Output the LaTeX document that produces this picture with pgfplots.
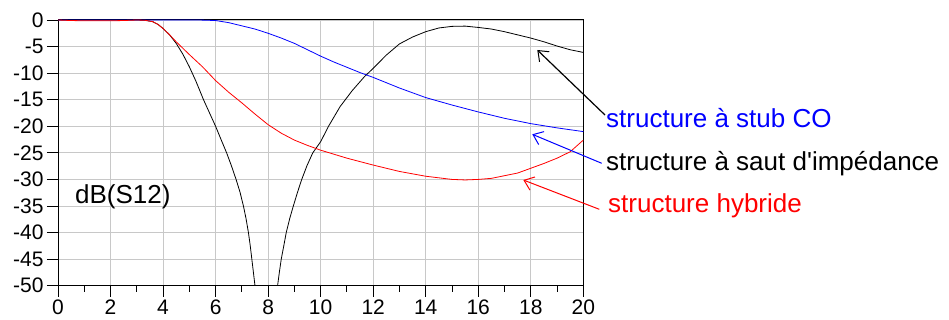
\documentclass[border=0pt]{standalone}
\usepackage{pgfplots}
\pgfplotsset{compat=1.18}
\usepackage{fontspec}
\setmainfont{Liberation Sans}
\usetikzlibrary{arrows.meta}
\definecolor{gridgray}{RGB}{200,200,200}
\begin{document}
\begin{tikzpicture}[x=1pt,y=1pt]
\path[use as bounding box] (0,0) rectangle (949,320);
\begin{axis}[
  at={(58pt,34.3pt)}, anchor=south west,
  scale only axis, width=525.3pt, height=265.7pt,
  xmin=0, xmax=20, ymin=-50, ymax=0,
  xtick={0,2,...,20}, minor xtick={1,3,...,19},
  ytick={-50,-45,...,0},
  grid=major, major grid style={color=gridgray, line width=0.9pt},
  tick align=outside, tick pos=left,
  major tick length=11pt, minor tick length=6pt,
  tick style={black, line width=0.9pt},
  axis line style={line width=1pt},
  ticklabel style={font=\fontsize{21}{24}\selectfont},
  /pgf/number format/assume math mode=true,
  clip=true,
]
% structure a stub CO (black)
\addplot[black, line width=0.8pt] coordinates {
(0,0) (2,0) (3,0) (3.3,-0.05) (3.6,-0.3) (3.8,-0.8) (4,-1.6) (4.25,-2.8) (4.5,-4.4)
(4.75,-6.4) (5,-8.8) (5.25,-11.5) (5.54,-15) (5.77,-17.5) (6,-20) (6.2,-22.4)
(6.42,-25) (6.6,-27.4) (6.78,-30) (6.93,-32.4) (7.06,-35) (7.16,-37.4) (7.25,-40)
(7.32,-42.5) (7.38,-45) (7.44,-47.5) (7.5,-50) (7.6,-55) (7.75,-64) (7.93,-80)
(8.1,-64) (8.25,-55) (8.36,-50) (8.43,-47.4) (8.5,-45) (8.6,-42.4) (8.69,-40)
(8.82,-37.4) (8.96,-35) (9.12,-32.4) (9.28,-30) (9.48,-27.4) (9.7,-25)
(10,-22.9) (10.3,-20) (10.74,-16.3) (11.2,-13.3) (11.66,-10.7) (12,-9.1)
(12.5,-6.6) (13,-4.5) (13.5,-3.2) (14,-2.2) (14.5,-1.5)
(15,-1.2) (15.5,-1.15) (16,-1.4) (16.5,-1.7) (17,-2.2) (17.5,-2.8) (18,-3.4)
(18.5,-4.1) (19,-4.9) (19.5,-5.6) (20,-6.1)
};
% structure a saut d'impedance (blue)
\addplot[blue, line width=0.8pt] coordinates {
(0,0) (5,0) (5.5,-0.02) (6,-0.1) (6.5,-0.5) (7,-1.1) (7.5,-1.7) (8,-2.5) (8.5,-3.4)
(9,-4.4) (9.5,-5.6) (10,-6.8) (10.5,-7.9) (11,-8.9) (11.5,-9.9) (12,-10.8)
(13,-12.8) (14,-14.6) (15,-16.0) (16,-17.3) (17,-18.5) (18,-19.5) (19,-20.3) (20,-21.0)
};
% structure hybride (red)
\addplot[red, line width=0.8pt] coordinates {
(0,0) (0.5,-0.1) (1,-0.15) (2,-0.15) (2.5,-0.1) (3,0) (3.3,-0.05) (3.6,-0.3)
(3.8,-0.8) (4,-1.6) (4.25,-2.8) (4.5,-4.1) (4.75,-5.3) (5,-6.5) (5.5,-8.8)
(6,-11.4) (6.5,-13.6) (7,-15.6) (7.5,-17.7) (8,-19.7) (8.5,-21.3) (9,-22.6)
(9.5,-23.6) (10,-24.5) (11,-26.0) (12,-27.3) (13,-28.5) (14,-29.4) (15,-30.0)
(15.5,-30.1) (16,-30.0) (16.5,-29.8) (17,-29.3) (17.5,-28.8) (18,-27.9)
(18.5,-27.0) (19,-26.0) (19.5,-24.8) (20,-22.6)
};
\end{axis}
\node[anchor=base west, inner sep=0pt, font=\fontsize{26}{30}\selectfont] at (75,116.7) {dB(S12)};
\draw[black, line width=1.2pt, -{Straight Barb[length=9pt,width=14pt,line width=1pt]}] (605,205) -- (537.3,270);
\draw[blue, line width=1pt, -{Straight Barb[length=9pt,width=14pt,line width=1pt]}] (601.7,156.7) -- (532.3,185.7);
\draw[red, line width=1pt, -{Straight Barb[length=9pt,width=14pt,line width=1pt]}] (599.3,110.7) -- (523.3,140);
\node[anchor=base west, inner sep=0pt, blue, font=\fontsize{26}{30}\selectfont] at (606,192) {structure à stub CO};
\node[anchor=base west, inner sep=0pt, black, font=\fontsize{26}{30}\selectfont] at (606,149) {structure à saut d\textquotesingle impédance};
\node[anchor=base west, inner sep=0pt, red, font=\fontsize{26}{30}\selectfont] at (608,107) {structure hybride};
\end{tikzpicture}
\end{document}
